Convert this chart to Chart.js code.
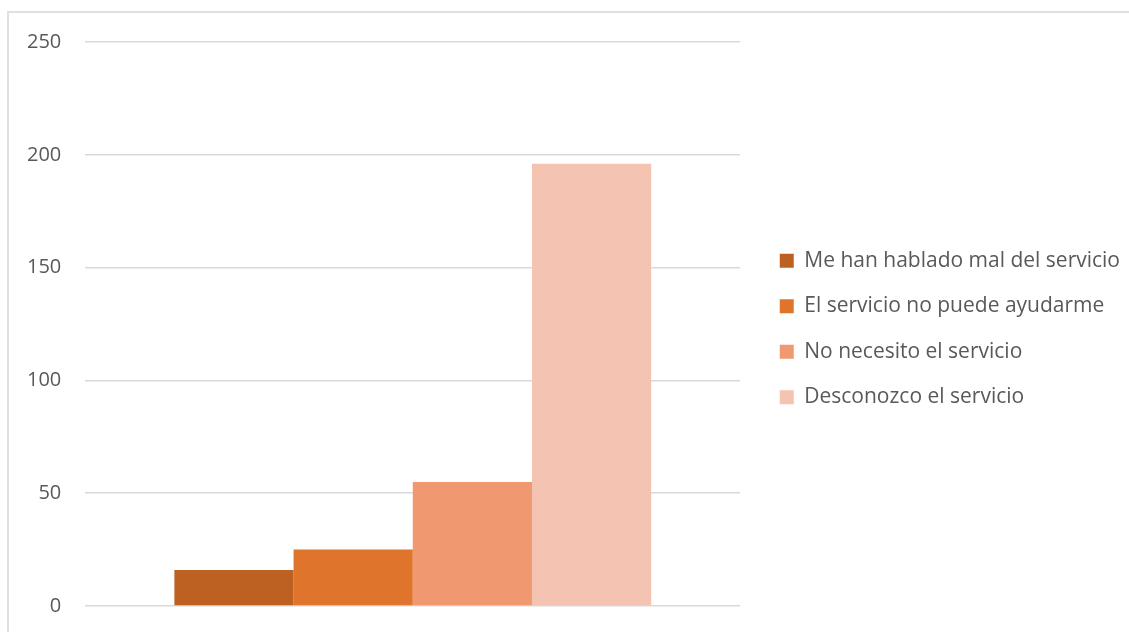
<!DOCTYPE html>
<html>
<head>
<meta charset="utf-8">
<script src="https://cdn.jsdelivr.net/npm/chart.js@4/dist/chart.umd.min.js"></script>
<style>
  html, body { margin: 0; padding: 0; background: #fff; overflow: hidden; }
  #frame { position: absolute; left: 7px; top: 11px; width: 1200px; height: 700px; border: 2px solid #e0e0e0; }
  #wrap { position: absolute; left: 0; top: 0; width: 1129px; height: 632px; }
</style>
</head>
<body>
<div id="frame"></div>
<div id="wrap"><canvas id="chart"></canvas></div>
<script>
// chart data
var categories = [''];
var seriesNames = ['Me han hablado mal del servicio', 'El servicio no puede ayudarme', 'No necesito el servicio', 'Desconozco el servicio'];
var seriesValues = [16, 25, 55, 196];
var seriesColors = ['#BC6121', '#DF742C', '#F09971', '#F4C3B1'];
var yTicks = [0, 50, 100, 150, 200, 250];

var datasets = [];
for (var i = 0; i < seriesNames.length; i++) {
  datasets.push({
    label: seriesNames[i],
    data: [seriesValues[i]],
    backgroundColor: seriesColors[i],
    borderWidth: 0,
    categoryPercentage: 0.728,
    barPercentage: 1
  });
}

// push the legend a bit further right of the plot (and a touch down)
var legendShift = {
  id: 'legendShift',
  afterLayout: function(chart) {
    if (chart.legend) {
      chart.legend.left += 15;
      chart.legend.right += 15;
      chart.legend.top += 5;
      chart.legend.bottom += 5;
    }
  }
};

var ctx = document.getElementById('chart').getContext('2d');
var myChart = new Chart(ctx, {
  type: 'bar',
  data: { labels: categories, datasets: datasets },
  plugins: [legendShift],
  options: {
    responsive: true,
    maintainAspectRatio: false,
    animation: false,
    layout: { padding: { left: 3, top: 42, bottom: 26, right: 14 } },
    plugins: {
      tooltip: { enabled: false },
      legend: {
        position: 'right',
        align: 'center',
        maxWidth: 420,
        labels: {
          boxWidth: 14,
          boxHeight: 14,
          padding: 24.5,
          color: '#595959',
          font: { family: 'Open Sans', size: 21 }
        }
      }
    },
    scales: {
      x: {
        display: false
      },
      y: {
        min: 0,
        max: 250,
        afterBuildTicks: function(axis) {
          axis.ticks = yTicks.map(function(v) { return { value: v }; });
        },
        afterFit: function(axis) {
          axis.paddingTop = 0;
          axis.paddingBottom = 0;
        },
        grid: { color: '#d9d9d9', lineWidth: 1.5, drawTicks: false },
        border: { display: false },
        ticks: {
          padding: 24,
          color: '#595959',
          font: { family: 'Open Sans', size: 20 }
        }
      }
    }
  }
});
</script>
</body>
</html>
